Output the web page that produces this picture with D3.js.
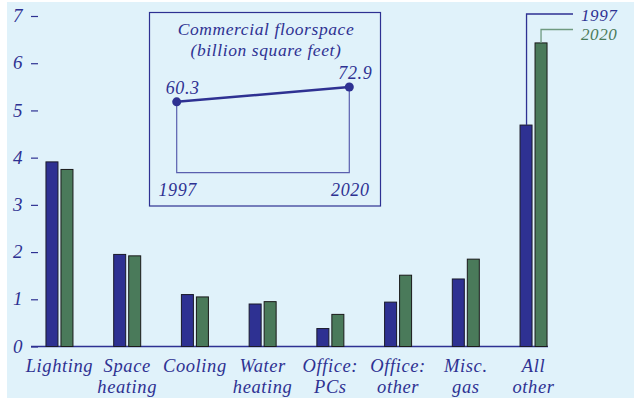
<!DOCTYPE html>
<html><head><meta charset="utf-8">
<script src="https://cdn.jsdelivr.net/npm/d3@7"></script>
<style>
html,body{margin:0;padding:0;background:#fff;}
svg text{font-family:"Liberation Serif","DejaVu Serif",serif;font-style:italic;letter-spacing:0.6px;}
</style></head>
<body>
<script>
const categories = [["Lighting"],["Space","heating"],["Cooling"],["Water","heating"],["Office:","PCs"],["Office:","other"],["Misc.","gas"],["All","other"]];
const values1997 = [3.91, 1.95, 1.10, 0.90, 0.38, 0.94, 1.43, 4.69];
const values2020 = [3.75, 1.92, 1.05, 0.95, 0.68, 1.51, 1.85, 6.43];
const yTicks = [0,1,2,3,4,5,6,7];
const seriesNames = ["1997","2020"];
const floorYears = ["1997","2020"];
const floorValues = [60.3, 72.9];
const insetTitle = ["Commercial floorspace","(billion square feet)"];

const W=634,H=398;
const navy="#2e3192", green="#4a7a5a", bg="#e0f2fa";
const svg=d3.select("body").append("svg").attr("width",W).attr("height",H);
svg.append("rect").attr("x",7).attr("y",2).attr("width",W-7).attr("height",H-2).attr("fill",bg);

const y=d3.scaleLinear().domain([0,7]).range([346.5,16]);
const x=d3.scaleBand().domain(d3.range(categories.length)).range([25.6,567.4]).padding(0);
const cx=i=>x(i)+x.bandwidth()/2;

// y axis ticks
const yAxis=d3.axisLeft(y).tickValues(yTicks).tickSize(7).tickPadding(8).tickFormat(d3.format("d"));
const ga=svg.append("g").attr("transform","translate(38,0)").call(yAxis);
ga.select(".domain").remove();
ga.selectAll("line").attr("stroke",navy).attr("stroke-width",1.2);
ga.selectAll("text").attr("fill",navy).attr("font-size",19).attr("font-family","Liberation Serif").attr("font-style","italic").attr("dy","0.3em");

// baseline
svg.append("line").attr("x1",31).attr("x2",548).attr("y1",y(0)).attr("y2",y(0)).attr("stroke",navy).attr("stroke-width",1.5);

const bw=12;
svg.append("g").selectAll("rect").data(values1997).join("rect")
 .attr("x",(d,i)=>cx(i)-13.5).attr("width",bw).attr("y",d=>y(d)).attr("height",d=>y(0)-y(d))
 .attr("fill",navy).attr("stroke","#1a1a2a").attr("stroke-width",1);
svg.append("g").selectAll("rect").data(values2020).join("rect")
 .attr("x",(d,i)=>cx(i)+1.5).attr("width",bw).attr("y",d=>y(d)).attr("height",d=>y(0)-y(d))
 .attr("fill",green).attr("stroke","#1a1a1a").attr("stroke-width",1);

// category labels
const lab=svg.append("g");
categories.forEach((c,i)=>{
  c.forEach((t,j)=>{
    lab.append("text").attr("x",cx(i)).attr("y",372+j*21).attr("text-anchor","middle")
      .attr("fill",navy).attr("font-size",18.5).text(t);
  });
});

// legend leaders
const last=categories.length-1;
const lx1=cx(last)-13.5+6.5, lx2=cx(last)+1.5+6;
svg.append("path").attr("d",`M${lx1},${y(values1997[last])}V14H573`).attr("fill","none").attr("stroke",navy).attr("stroke-width",1.3);
svg.append("path").attr("d",`M${lx2},${y(values2020[last])}V29.5H573`).attr("fill","none").attr("stroke","#6f9a80").attr("stroke-width",1.3);
svg.append("text").attr("x",581).attr("y",21).attr("fill",navy).attr("font-size",17).attr("letter-spacing","1px").text(seriesNames[0]);
svg.append("text").attr("x",581).attr("y",40).attr("fill",green).attr("font-size",17).attr("letter-spacing","1px").text(seriesNames[1]);

// inset
svg.append("rect").attr("x",149.5).attr("y",12.5).attr("width",231).attr("height",193.5).attr("fill","none").attr("stroke",navy).attr("stroke-width",1.2);
insetTitle.forEach((t,j)=>svg.append("text").attr("x",266).attr("y",35+j*21).attr("text-anchor","middle").attr("fill",navy).attr("font-size",17.5).attr("letter-spacing","1px").text(t));
const ix=d3.scalePoint().domain(floorYears).range([176.7,349.3]);
const iy=d3.scaleLinear().domain([0,72.9]).range([172.7,87]);
const fl=floorYears.map((yr,i)=>({yr,v:floorValues[i]}));
svg.append("path").attr("d",`M${ix(floorYears[0])},${iy(floorValues[0])}V${iy(0)}H${ix(floorYears[1])}V${iy(floorValues[1])}`)
 .attr("fill","none").attr("stroke","#5a5fae").attr("stroke-width",1.2);
svg.append("path").datum(fl).attr("d",d3.line().x(d=>ix(d.yr)).y(d=>iy(d.v)).curve(d3.curveLinear))
 .attr("fill","none").attr("stroke",navy).attr("stroke-width",2.5);
svg.append("g").selectAll("circle").data(fl).join("circle").attr("cx",d=>ix(d.yr)).attr("cy",d=>iy(d.v)).attr("r",4.5).attr("fill",navy);
svg.append("g").selectAll("text").data(fl).join("text").attr("x",d=>ix(d.yr)+6).attr("y",d=>iy(d.v)-8).attr("text-anchor","middle").attr("fill",navy).attr("font-size",18).attr("letter-spacing","1px").text(d=>d.v.toFixed(1));
svg.append("g").selectAll("text").data(fl).join("text").attr("x",d=>ix(d.yr)+1).attr("y",196).attr("text-anchor","middle").attr("fill",navy).attr("font-size",18).attr("letter-spacing","1px").text(d=>d.yr);
</script>
</body></html>
